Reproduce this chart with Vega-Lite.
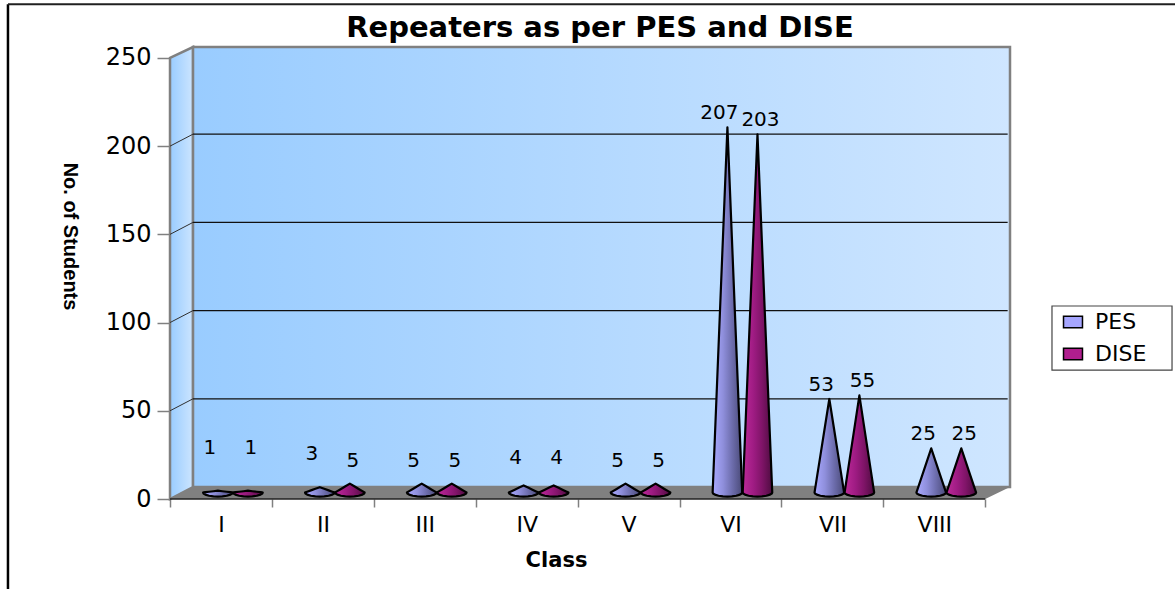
{
"$schema":"https://vega.github.io/schema/vega-lite/v6.json",
"width":840,"height":452,
"autosize":"none",
"padding":{"left":170,"top":47,"right":165,"bottom":90},
"background":"white",
"view":{"stroke":null},
"title":{"text":"Repeaters as per PES and DISE","font":"DejaVu Sans","fontSize":29,"fontWeight":"bold","color":"black","anchor":"middle","dx":10,"offset":-40},
"datasets":{
"repeaters":[
{"class":"I","series":"PES","students":1},{"class":"I","series":"DISE","students":1},
{"class":"II","series":"PES","students":3},{"class":"II","series":"DISE","students":5},
{"class":"III","series":"PES","students":5},{"class":"III","series":"DISE","students":5},
{"class":"IV","series":"PES","students":4},{"class":"IV","series":"DISE","students":4},
{"class":"V","series":"PES","students":5},{"class":"V","series":"DISE","students":5},
{"class":"VI","series":"PES","students":207},{"class":"VI","series":"DISE","students":203},
{"class":"VII","series":"PES","students":53},{"class":"VII","series":"DISE","students":55},
{"class":"VIII","series":"PES","students":25},{"class":"VIII","series":"DISE","students":25}
]},
"data":{"name":"repeaters"},
"layer":[
{"data":{"values":[{"x":0,"y":250,"y2":0},{"x":0.226,"y":256.2,"y2":6.8}]},
 "mark":{"type":"area","stroke":"#808080","strokeWidth":2.5,"fill":{"x1":0,"y1":0,"x2":1,"y2":0,"gradient":"linear","stops":[{"offset":0,"color":"#99CCFF"},{"offset":1,"color":"#CCE5FF"}]}},
 "encoding":{
  "x":{"field":"x","type":"quantitative","scale":{"domain":[0,8.243],"nice":false,"zero":false},
   "axis":{"values":[0,1,2,3,4,5,6,7,8],"labelExpr":"['I','II','III','IV','V','VI','VII','VIII',''][datum.value]","labelOffset":51,"labelFont":"DejaVu Sans","labelFontSize":22,"labelColor":"black","labelPadding":7,"labelOverlap":false,"labelBound":false,"labelFlush":false,"tickColor":"#808080","tickSize":8,"tickWidth":1.5,"domain":false,"grid":false,"title":"Class","titleFont":"DejaVu Sans","titleFontSize":21,"titleFontWeight":"bold","titleColor":"black","titleX":386,"titleY":67,"titleAlign":"center","titleBaseline":"alphabetic"}},
  "y":{"field":"y","type":"quantitative","scale":{"domain":[0,256.2],"nice":false,"zero":false},
   "axis":{"values":[0,50,100,150,200,250],"labelFont":"DejaVu Sans","labelFontSize":24,"labelColor":"black","labelPadding":6,"labelBound":false,"tickColor":"#808080","tickSize":13,"tickWidth":1.5,"domain":false,"grid":false,"title":"No. of Students","titleFont":"Liberation Sans","titleFontSize":20,"titleFontWeight":"bold","titleColor":"black","titleAngle":90,"titleX":-101,"titleY":189,"titleAlign":"center","titleBaseline":"middle"}},
  "y2":{"field":"y2"}}},
{"data":{"values":[{"x":0.226,"y":256.2,"x2":8.243,"y2":6.8}]},
 "mark":{"type":"rect","stroke":"#808080","strokeWidth":2.5,"fill":{"x1":0,"y1":0,"x2":1,"y2":0,"gradient":"linear","stops":[{"offset":0,"color":"#99CCFF"},{"offset":1,"color":"#CFE6FF"}]}},
 "encoding":{"x":{"field":"x","type":"quantitative"},"x2":{"field":"x2"},"y":{"field":"y","type":"quantitative"},"y2":{"field":"y2"}}},
{"data":{"values":[{"x":0,"y":0,"y2":0},{"x":0.226,"y":6.8,"y2":0},{"x":8,"y":6.8,"y2":0},{"x":8.243,"y":6.8,"y2":6.8}]},
 "mark":{"type":"area","color":"#808080"},
 "encoding":{"x":{"field":"x","type":"quantitative"},"y":{"field":"y","type":"quantitative"},"y2":{"field":"y2"}}},
{"data":{"values":[{"v":50,"b":56.8},{"v":100,"b":106.8},{"v":150,"b":156.8},{"v":200,"b":206.8}]},
 "mark":{"type":"rule","color":"#101010","strokeWidth":1.2},
 "encoding":{"x":{"datum":0.226,"type":"quantitative"},"x2":{"datum":8.22},"y":{"field":"b","type":"quantitative"}}},
{"data":{"values":[{"v":50,"b":56.8},{"v":100,"b":106.8},{"v":150,"b":156.8},{"v":200,"b":206.8}]},
 "mark":{"type":"rule","color":"#303030","strokeWidth":1},
 "encoding":{"x":{"datum":0,"type":"quantitative"},"x2":{"datum":0.226},"y":{"field":"v","type":"quantitative"},"y2":{"field":"b"}}},
{"data":{"values":[{"a":0,"b":8}]},
 "mark":{"type":"rule","color":"#202020","strokeWidth":1.5},
 "encoding":{"x":{"field":"a","type":"quantitative"},"x2":{"field":"b"},"y":{"datum":0,"type":"quantitative"}}},
{"data":{"values":[{"a":-1.59,"top":280.5,"bottom":-51}]},
 "mark":{"type":"rule","color":"black","strokeWidth":2.5},
 "encoding":{"x":{"field":"a","type":"quantitative"},"y":{"field":"top","type":"quantitative"},"y2":{"field":"bottom"}}},
{"data":{"values":[{"a":-1.59,"b":9.9,"top":280.5}]},
 "mark":{"type":"rule","color":"#202020","strokeWidth":2},
 "encoding":{"x":{"field":"a","type":"quantitative"},"x2":{"field":"b"},"y":{"field":"top","type":"quantitative"}}},
{"data":{"values":[{"x":8.655,"x2":9.833,"y":109.4,"y2":73.1}]},
 "mark":{"type":"rect","fill":"white","stroke":"#444444","strokeWidth":1.2},
 "encoding":{"x":{"field":"x","type":"quantitative"},"x2":{"field":"x2"},"y":{"field":"y","type":"quantitative"},"y2":{"field":"y2"}}},
{"transform":[{"filter":"datum.series==='PES'"},
 {"calculate":"indexof(['I','II','III','IV','V','VI','VII','VIII'],datum['class'])","as":"idx"},
 {"calculate":"[-1,-0.97,-0.85,-0.6,-0.3,0,0.3,0.6,0.85,0.97,1]","as":"t"},{"flatten":["t"]},
 {"calculate":"datum.idx+0.47+datum.t*0.145","as":"cx"},
 {"calculate":"3.7+datum.students*(1-abs(datum.t))","as":"upper"},
 {"calculate":"3.7-2.3*sqrt(1-datum.t*datum.t)","as":"lower"}],
 "mark":{"type":"area","stroke":"black","strokeWidth":2.2,"strokeJoin":"round","fill":{"x1":0,"y1":0,"x2":1,"y2":0,"gradient":"linear","stops":[{"offset":0,"color":"#A9A9FF"},{"offset":0.35,"color":"#8F8FDC"},{"offset":0.65,"color":"#6E6EAE"},{"offset":1,"color":"#4A4A78"}]}},
 "encoding":{"x":{"field":"cx","type":"quantitative"},"y":{"field":"upper","type":"quantitative"},"y2":{"field":"lower"},"detail":{"field":"class"}}},
{"transform":[{"filter":"datum.series==='DISE'"},
 {"calculate":"indexof(['I','II','III','IV','V','VI','VII','VIII'],datum['class'])","as":"idx"},
 {"calculate":"[-1,-0.97,-0.85,-0.6,-0.3,0,0.3,0.6,0.85,0.97,1]","as":"t"},{"flatten":["t"]},
 {"calculate":"datum.idx+0.765+datum.t*0.145","as":"cx"},
 {"calculate":"3.7+datum.students*(1-abs(datum.t))","as":"upper"},
 {"calculate":"3.7-2.3*sqrt(1-datum.t*datum.t)","as":"lower"}],
 "mark":{"type":"area","stroke":"black","strokeWidth":2.2,"strokeJoin":"round","fill":{"x1":0,"y1":0,"x2":1,"y2":0,"gradient":"linear","stops":[{"offset":0,"color":"#BC2A98"},{"offset":0.35,"color":"#A01C84"},{"offset":0.65,"color":"#801468"},{"offset":1,"color":"#4E0C40"}]}},
 "encoding":{"x":{"field":"cx","type":"quantitative"},"y":{"field":"upper","type":"quantitative"},"y2":{"field":"lower"},"detail":{"field":"class"}}},
{"transform":[{"filter":"datum.series==='PES'"},
 {"calculate":"indexof(['I','II','III','IV','V','VI','VII','VIII'],datum['class'])+0.47","as":"cx"},
 {"calculate":"3.7+datum.students+max(8,27-2.8*datum.students)","as":"ly"}],
 "mark":{"type":"text","font":"DejaVu Sans","fontSize":20,"color":"black","baseline":"middle","xOffset":-8},
 "encoding":{"x":{"field":"cx","type":"quantitative"},"y":{"field":"ly","type":"quantitative"},"text":{"field":"students","type":"quantitative"}}},
{"transform":[{"filter":"datum.series==='DISE'"},
 {"calculate":"indexof(['I','II','III','IV','V','VI','VII','VIII'],datum['class'])+0.765","as":"cx"},
 {"calculate":"3.7+datum.students+max(8,27-2.8*datum.students)","as":"ly"}],
 "mark":{"type":"text","font":"DejaVu Sans","fontSize":20,"color":"black","baseline":"middle","xOffset":3},
 "encoding":{"x":{"field":"cx","type":"quantitative"},"y":{"field":"ly","type":"quantitative"},"text":{"field":"students","type":"quantitative"}}},
{"mark":{"type":"point","shape":"square","filled":true,"size":0},
 "encoding":{"x":{"datum":0,"type":"quantitative"},"y":{"datum":0,"type":"quantitative"},
  "color":{"field":"series","type":"nominal","scale":{"domain":["PES","DISE"],"range":["#A6A6FF","#B01E8E"]},
   "legend":{"title":null,"orient":"none","legendX":882,"legendY":259,"padding":5,"rowPadding":10,"labelFont":"DejaVu Sans","labelFontSize":22,"labelColor":"black","symbolType":"M-1,-0.6H1V0.6H-1Z","symbolSize":360,"symbolStrokeColor":"black","symbolStrokeWidth":1.5,"symbolOpacity":1,"symbolOffset":5,"labelOffset":11}}}}
]
}
